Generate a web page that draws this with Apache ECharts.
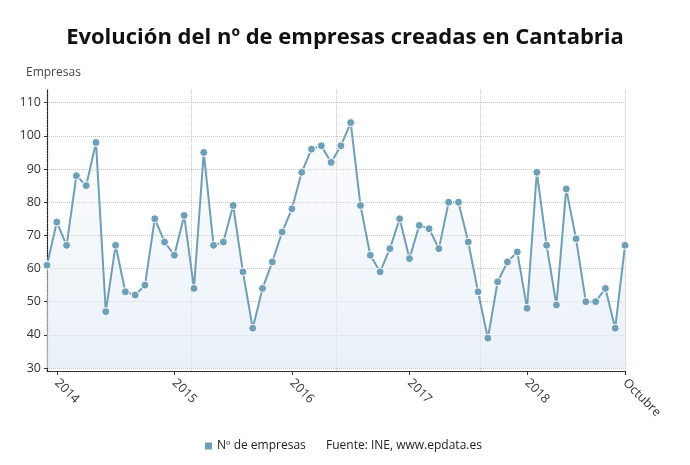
<!DOCTYPE html>
<html>
<head>
<meta charset="utf-8">
<script src="https://cdn.jsdelivr.net/npm/echarts@6/dist/echarts.min.js"></script>
<style>html,body{margin:0;padding:0;background:#fff}#c{width:690px;height:465px}</style>
</head>
<body>
<div id="c"></div>
<script>
// monthly index 0..59
const values = [61,74,67,88,85,98,47,67,53,52,55,75,68,64,76,54,95,67,68,79,
  59,42,54,62,71,78,89,96,97,92,97,104,79,64,59,66,75,63,73,72,66,80,80,
  68,53,39,56,62,65,48,89,67,49,84,69,50,50,54,42,67];
const categories = values.map((v, i) => 'm' + i);
const tickLabels = {1: '2014', 13: '2015', 25: '2016', 37: '2017', 49: '2018', 59: 'Octubre'};
const yTicks = [30, 110, 10]; // min, max, step
const seriesName = 'Nº de empresas';
const sourceText = 'Fuente: INE, www.epdata.es';
const titleText = 'Evolución del nº de empresas creadas en Cantabria';

const FONT = 'Open Sans';
const chart = echarts.init(document.getElementById('c'));
const showAt = (i) => tickLabels.hasOwnProperty(i);
chart.setOption({
  animation: false,
  textStyle: {fontFamily: FONT},
  title: [
    {text: titleText, left: 'center', top: 22,
     textStyle: {fontFamily: FONT, fontSize: 22, fontWeight: 'bold', color: '#111'}},
    {text: 'Empresas', left: 21, top: 62,
     textStyle: {fontFamily: FONT, fontSize: 12, fontWeight: 'normal', color: '#444'}},
    {text: sourceText, left: 321, top: 435,
     textStyle: {fontFamily: FONT, fontSize: 12, fontWeight: 'normal', color: '#222'}}
  ],
  legend: {
    data: [seriesName], left: 198, top: 435, icon: 'rect', itemWidth: 9, itemHeight: 9, itemGap: 4,
    textStyle: {fontFamily: FONT, fontSize: 12, color: '#222', padding: [0,0,0,-1]}
  },
  grid: [
    {left: 47, right: 65, top: 102.7, bottom: 97},
    {left: 47, right: 65, top: 90, bottom: 94}
  ],
  xAxis: [
    {type: 'category', gridIndex: 0, data: categories, boundaryGap: false, offset: 3,
     axisLine: {show: true, lineStyle: {color: '#333', width: 1}},
     axisTick: {show: true, interval: showAt, length: 4, lineStyle: {color: '#333'}},
     axisLabel: {show: true, interval: showAt, rotate: -45, margin: 10, color: '#333', fontSize: 12.5,
       formatter: (v, i) => tickLabels[i] || ''},
     splitLine: {show: false}},
    {type: 'value', gridIndex: 1, min: 0, max: 4, interval: 1,
     axisLine: {show: false}, axisTick: {show: false}, axisLabel: {show: false},
     splitLine: {show: true, lineStyle: {color: '#c4c4c4', type: 'dotted', width: 1}}}
  ],
  yAxis: [
    {type: 'value', gridIndex: 0, min: yTicks[0], max: yTicks[1], interval: yTicks[2],
     axisLine: {show: false},
     axisTick: {show: true, length: 3, lineStyle: {color: '#333'}},
     axisLabel: {color: '#333', fontSize: 12.5, margin: 6},
     splitLine: {show: true, lineStyle: {color: '#c4c4c4', type: 'dotted', width: 1}}},
    {type: 'value', gridIndex: 1, min: 0, max: 1,
     axisLine: {show: true, lineStyle: {color: '#222', type: 'dotted', width: 1.3}},
     axisTick: {show: false}, axisLabel: {show: false}, splitLine: {show: false}}
  ],
  series: [{
    name: seriesName, type: 'line', xAxisIndex: 0, yAxisIndex: 0, data: values,
    symbol: 'circle', symbolSize: 8, showSymbol: true, showAllSymbol: true,
    itemStyle: {color: '#6c9fb8', borderColor: '#fff', borderWidth: 1},
    lineStyle: {color: '#6c9fb8', width: 2},
    areaStyle: {color: new echarts.graphic.LinearGradient(0, 0, 0, 1, [
      {offset: 0, color: 'rgba(236,242,248,0.25)'},
      {offset: 1, color: 'rgba(223,234,244,1)'}
    ])},
    z: 3
  }]
});
</script>
</body>
</html>
